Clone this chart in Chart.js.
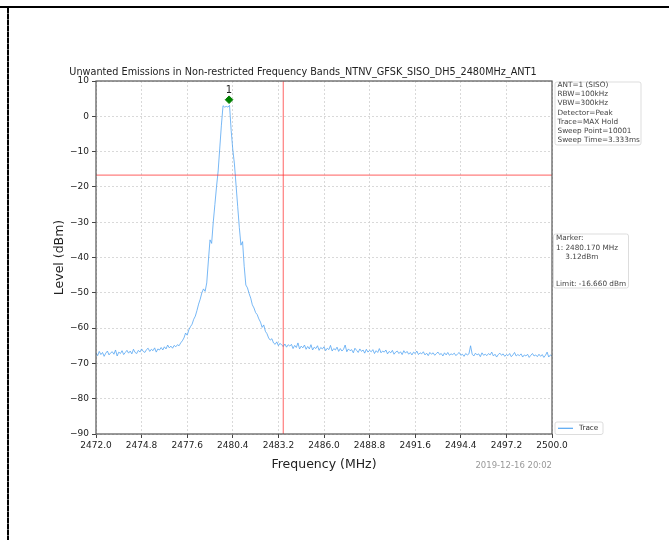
<!DOCTYPE html>
<html>
<head>
<meta charset="utf-8">
<script src="https://cdn.jsdelivr.net/npm/chart.js@4.4.1/dist/chart.umd.min.js"></script>
<style>
html, body { margin: 0; padding: 0; background: #fff; }
#wrap { position: relative; width: 669px; height: 540px; overflow: hidden; }
#topline { position: absolute; left: 0; top: 6px; width: 669px; height: 2px; background: #000; }
#leftline { position: absolute; left: 7px; top: 8px; width: 2px; height: 532px;
  background: repeating-linear-gradient(#000 0 5px, #666 5px 6px); }
canvas { position: absolute; left: 0; top: 0; }
</style>
</head>
<body>
<div id="wrap">
  <div id="topline"></div>
  <div id="leftline"></div>
  <canvas id="c" width="669" height="540"></canvas>
</div>
<script>
// sweep: 2472.0 .. 2500.0 MHz, one reading every 0.1 MHz
const freqStart = 2472.0;
const freqStep = 0.1;
const traceLevels = [
  -67.0,-67.8,-66.6,-67.5,-66.9,-68.0,-67.1,-66.5,-67.6,-67.0, // 2472
  -66.7,-67.4,-66.2,-67.9,-66.8,-67.2,-66.4,-67.5,-66.9,-66.3, // 2473
  -67.1,-66.5,-67.3,-66.0,-66.9,-67.2,-66.3,-66.8,-65.9,-66.6, // 2474
  -66.9,-66.1,-65.7,-66.6,-66.0,-66.4,-65.6,-66.8,-65.9,-66.2, // 2475
  -65.5,-66.2,-65.3,-65.9,-64.8,-65.6,-65.1,-65.7,-64.9,-65.3, // 2476
  -64.7,-65.0,-64.2,-63.6,-62.8,-61.4,-62.0,-60.5,-59.6,-58.9, // 2477
  -57.5,-56.6,-55.0,-53.2,-51.8,-50.0,-48.9,-49.6,-47.2,-41.0, // 2478
  -35.0,-36.0,-30.0,-25.0,-20.0,-15.5,-9.0,-2.5,3.0,2.6,       // 2479
  2.8,2.6,3.1,-4.0,-9.5,-13.5,-19.5,-25.5,-31.5,-36.5,         // 2480
  -35.5,-42.5,-47.8,-48.6,-50.2,-51.5,-53.4,-54.3,-55.6,-56.2, // 2481
  -57.4,-58.3,-59.8,-59.1,-60.9,-61.6,-62.8,-63.4,-63.0,-64.2, // 2482
  -64.6,-63.9,-65.0,-64.3,-64.8,-65.2,-64.5,-65.4,-64.7,-65.1, // 2483
  -64.6,-65.8,-64.9,-65.5,-64.2,-65.9,-65.1,-65.6,-64.8,-66.0, // 2484
  -65.2,-65.9,-64.7,-66.2,-65.4,-65.8,-65.0,-66.3,-65.5,-65.9, // 2485
  -65.3,-66.4,-65.7,-66.1,-64.9,-66.5,-65.8,-66.2,-65.4,-66.6, // 2486
  -65.8,-66.5,-66.0,-64.8,-66.7,-65.9,-66.4,-66.1,-67.0,-65.7, // 2487
  -66.3,-66.9,-65.9,-66.6,-66.2,-67.1,-66.0,-66.8,-66.3,-66.7, // 2488
  -66.1,-67.2,-66.4,-66.9,-65.8,-67.0,-66.5,-66.8,-66.2,-67.3, // 2489
  -66.6,-67.0,-66.3,-67.4,-66.8,-66.5,-67.2,-66.7,-67.5,-66.4, // 2490
  -67.1,-66.6,-67.4,-66.9,-67.6,-66.8,-67.2,-66.5,-67.5,-67.0, // 2491
  -67.3,-66.7,-67.6,-67.1,-67.8,-66.9,-67.4,-67.0,-67.7,-67.2, // 2492
  -66.8,-67.5,-67.2,-67.9,-67.0,-67.6,-66.9,-67.7,-67.3,-67.5, // 2493
  -67.1,-67.8,-67.3,-66.9,-67.7,-67.4,-68.0,-67.2,-67.6,-67.3, // 2494
  -65.0,-67.4,-67.9,-67.1,-67.6,-67.3,-68.1,-67.0,-67.7,-67.4, // 2495
  -67.8,-67.2,-67.6,-66.8,-67.9,-67.4,-68.2,-67.5,-67.1,-67.7, // 2496
  -67.3,-68.0,-67.5,-67.8,-67.2,-68.1,-67.6,-66.9,-67.9,-67.5, // 2497
  -67.8,-67.3,-68.2,-67.6,-67.9,-67.4,-68.3,-67.7,-67.2,-67.9, // 2498
  -67.6,-68.1,-67.4,-68.0,-67.5,-68.3,-67.7,-66.8,-68.2,-67.6, // 2499
  -67.9                                                        // 2500
];

const xTicks = [2472.0, 2474.8, 2477.6, 2480.4, 2483.2, 2486.0, 2488.8, 2491.6, 2494.4, 2497.2, 2500.0];
const yTicks = [10, 0, -10, -20, -30, -40, -50, -60, -70, -80, -90];

const limitLevel = -16.66;
const bandEdgeFreq = 2483.5;
const markerFreqs = [2480.17];
const markerLevels = [4.7];
const markerNames = ['1'];

const titleText = 'Unwanted Emissions in Non-restricted Frequency Bands_NTNV_GFSK_SISO_DH5_2480MHz_ANT1';
const infoLines = ['ANT=1 (SISO)', 'RBW=100kHz', 'VBW=300kHz', 'Detector=Peak', 'Trace=MAX Hold', 'Sweep Point=10001', 'Sweep Time=3.333ms'];
const markerLines = ['Marker:', '1: 2480.170 MHz', '    3.12dBm', '', '', 'Limit: -16.660 dBm'];
const dateText = '2019-12-16 20:02';

const traceColor = '#55a6f2';
const limitColor = 'rgba(255,40,40,0.6)';
const FONT = '"DejaVu Sans", sans-serif';

const tracePoints = traceLevels.map((v, i) => ({ x: freqStart + i * freqStep, y: v }));

function roundRect(ctx, x, y, w, h, r) {
  ctx.beginPath();
  ctx.moveTo(x + r, y);
  ctx.lineTo(x + w - r, y);
  ctx.quadraticCurveTo(x + w, y, x + w, y + r);
  ctx.lineTo(x + w, y + h - r);
  ctx.quadraticCurveTo(x + w, y + h, x + w - r, y + h);
  ctx.lineTo(x + r, y + h);
  ctx.quadraticCurveTo(x, y + h, x, y + h - r);
  ctx.lineTo(x, y + r);
  ctx.quadraticCurveTo(x, y, x + r, y);
  ctx.closePath();
}

const decor = {
  id: 'decor',
  afterDraw(chart) {
    const { ctx, chartArea: a, scales: { x, y } } = chart;
    ctx.save();

    // axes frame
    ctx.strokeStyle = '#555';
    ctx.lineWidth = 1.2;
    ctx.strokeRect(a.left, a.top, a.right - a.left, a.bottom - a.top);

    // title
    ctx.fillStyle = '#222';
    ctx.font = '9.7px ' + FONT;
    ctx.textAlign = 'center';
    ctx.textBaseline = 'middle';
    ctx.fillText(titleText, 303, 72);

    // marker labels
    ctx.font = '10px ' + FONT;
    markerNames.forEach((n, i) => {
      ctx.fillText(n, x.getPixelForValue(markerFreqs[i]), y.getPixelForValue(markerLevels[i]) - 9);
    });

    // info boxes
    ctx.font = '7.3px ' + FONT;
    ctx.textAlign = 'left';
    ctx.lineWidth = 0.8;
    ctx.strokeStyle = '#d4d4d4';
    ctx.fillStyle = '#fff';
    roundRect(ctx, 555, 82, 86, 63, 2);
    ctx.fill(); ctx.stroke();
    ctx.fillStyle = '#444';
    infoLines.forEach((t, i) => ctx.fillText(t, 557.5, 85.5 + i * 9.05));

    ctx.fillStyle = '#fff';
    roundRect(ctx, 553.5, 234, 75, 54, 2);
    ctx.fill(); ctx.stroke();
    ctx.fillStyle = '#444';
    markerLines.forEach((t, i) => ctx.fillText(t, 556, 238.5 + i * 9.2));

    // legend
    ctx.fillStyle = '#fff';
    roundRect(ctx, 555, 422, 48, 12.5, 2);
    ctx.fill(); ctx.stroke();
    ctx.strokeStyle = traceColor;
    ctx.lineWidth = 1.2;
    ctx.beginPath(); ctx.moveTo(558, 428.3); ctx.lineTo(573, 428.3); ctx.stroke();
    ctx.fillStyle = '#333';
    ctx.fillText(chart.data.datasets[0].label, 579, 428.3);

    // timestamp
    ctx.fillStyle = '#999';
    ctx.font = '8.5px ' + FONT;
    ctx.textAlign = 'right';
    ctx.fillText(dateText, 552, 466);

    ctx.restore();
  }
};

const gridOpts = {
  color: '#d0d0d0',
  lineWidth: 0.8,
  drawTicks: true,
  tickLength: 4,
  tickColor: '#444',
  tickBorderDash: [],
  tickWidth: 1
};

new Chart(document.getElementById('c'), {
  type: 'line',
  data: {
    datasets: [
      { label: 'Trace', data: tracePoints, borderColor: traceColor, borderWidth: 0.8, pointRadius: 0, tension: 0, order: 3 },
      { label: 'Limit', data: [{ x: xTicks[0], y: limitLevel }, { x: xTicks[xTicks.length - 1], y: limitLevel }],
        borderColor: limitColor, borderWidth: 1.2, pointRadius: 0, order: 2 },
      { label: 'Band edge', data: [{ x: bandEdgeFreq, y: yTicks[yTicks.length - 1] }, { x: bandEdgeFreq, y: yTicks[0] }],
        borderColor: limitColor, borderWidth: 1.2, pointRadius: 0, order: 2 },
      { label: 'Marker', data: markerFreqs.map((f, i) => ({ x: f, y: markerLevels[i] })), showLine: false,
        pointStyle: 'rectRot', pointRadius: 3.8, backgroundColor: '#008000', borderColor: '#008000', order: 1 }
    ]
  },
  options: {
    responsive: false,
    animation: false,
    events: [],
    layout: { padding: { left: 48, top: 81, right: 117, bottom: 60 } },
    plugins: { legend: { display: false }, tooltip: { enabled: false }, title: { display: false } },
    scales: {
      x: {
        type: 'linear',
        min: xTicks[0],
        max: xTicks[xTicks.length - 1],
        afterBuildTicks: s => { s.ticks = xTicks.map(v => ({ value: v })); },
        afterFit: s => { s.height = 46; },
        grid: gridOpts,
        border: { display: false, dash: [2, 2] },
        ticks: { color: '#222', font: { family: FONT, size: 9 }, padding: 2, maxRotation: 0, autoSkip: false,
                 callback: v => Number(v).toFixed(1) },
        title: { display: true, text: 'Frequency (MHz)', color: '#222', font: { family: FONT, size: 12.5 },
                 padding: { top: 0, bottom: 8 } }
      },
      y: {
        type: 'linear',
        min: yTicks[yTicks.length - 1],
        max: yTicks[0],
        afterBuildTicks: s => { s.ticks = yTicks.map(v => ({ value: v })); },
        afterFit: s => { s.width = 48; },
        grid: gridOpts,
        border: { display: false, dash: [2, 2] },
        ticks: { color: '#222', font: { family: FONT, size: 9 }, padding: 3, autoSkip: false,
                 callback: v => (v < 0 ? '\u2212' + Math.abs(v) : String(v)) },
        title: { display: true, text: 'Level (dBm)', color: '#222', font: { family: FONT, size: 12.5 },
                 padding: { top: 4.5, bottom: 0 } }
      }
    }
  },
  plugins: [decor]
});
</script>
</body>
</html>
